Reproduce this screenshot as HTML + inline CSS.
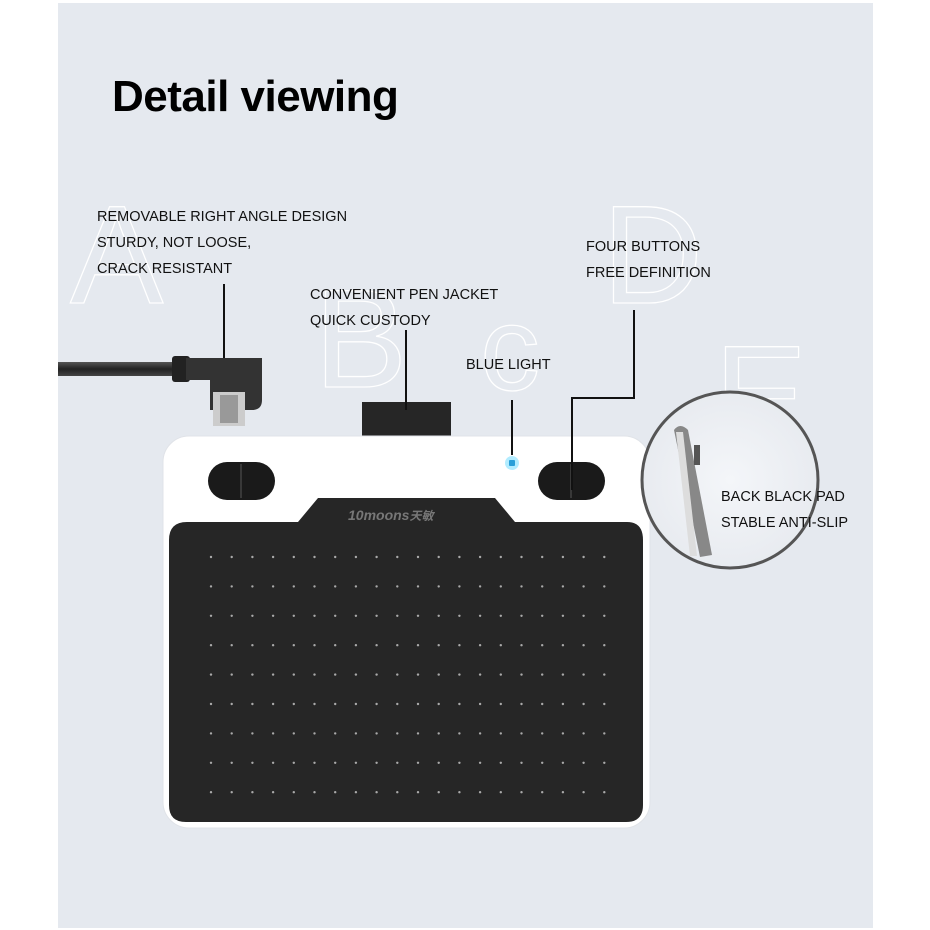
<!DOCTYPE html>
<html><head><meta charset="utf-8"><style>
body{margin:0;width:930px;height:930px;background:#fff;position:relative;overflow:hidden;font-family:"Liberation Sans",sans-serif}
.t{position:absolute;font-size:14.5px;color:#111;line-height:26px;letter-spacing:0}
</style></head><body>
<svg width="930" height="930" style="position:absolute;left:0;top:0">
<defs>
<radialGradient id="cg" cx="0.5" cy="0.5" r="0.5"><stop offset="0" stop-color="#f4f6f9"/><stop offset="1" stop-color="#e8ebf0"/></radialGradient>
<linearGradient id="cab" x1="0" y1="0" x2="0" y2="1"><stop offset="0" stop-color="#555"/><stop offset="0.5" stop-color="#222"/><stop offset="1" stop-color="#444"/></linearGradient>
</defs>
<rect x="58" y="3" width="815" height="925" fill="#e5e9ef"/>
<g font-family="Liberation Sans" font-size="140" fill="none" stroke="#fff" stroke-width="1.3">
<text x="70" y="303">A</text>
<text x="314" y="387">B</text>
<text x="480" y="390" font-size="120">c</text>
<text x="602" y="303">D</text>
<text x="714" y="443">E</text>
</g>
<rect x="58" y="362" width="120" height="14" fill="url(#cab)"/>
<rect x="172" y="356" width="18" height="26" rx="3" fill="#222"/>
<path d="M186 358 H262 V400 Q262 410 252 410 H210 V380 H186 Z" fill="#333"/>
<rect x="213" y="392" width="32" height="34" fill="#ccc"/>
<rect x="220" y="395" width="18" height="28" fill="#999"/>
<rect x="362" y="402" width="89" height="40" fill="#262626"/>
<rect x="163" y="436" width="487" height="392" rx="26" fill="#fff" stroke="#e0e3e8"/>
<path d="M169 540 Q169 522 187 522 H298 L318 498 H495 L515 522 H627 Q643 522 643 540 V805 Q643 822 626 822 H186 Q169 822 169 805 Z" fill="#262626"/>
<text x="348" y="520" font-family="Liberation Sans" font-style="italic" font-weight="bold" font-size="14" fill="#777">10moons<tspan font-family="Noto Sans CJK SC" font-size="12">天敏</tspan></text>
<g fill="#aaa" id="dots"></g>
<rect x="208" y="462" width="67" height="38" rx="19" fill="#1a1a1a"/>
<line x1="241" y1="464" x2="241" y2="498" stroke="#555"/>
<rect x="538" y="462" width="67" height="38" rx="19" fill="#1a1a1a"/>
<line x1="571" y1="464" x2="571" y2="498" stroke="#555"/>
<circle cx="512" cy="463" r="7" fill="#7fe0ff" opacity="0.6"/>
<rect x="509" y="460" width="6" height="6" rx="1" fill="#2a9fd8"/>
<g stroke="#111" stroke-width="2" fill="none">
<line x1="224" y1="284" x2="224" y2="358"/>
<line x1="406" y1="330" x2="406" y2="410"/>
<line x1="512" y1="400" x2="512" y2="455"/>
<polyline points="634,310 634,398 572,398 572,490"/>
</g>
<circle cx="730" cy="480" r="88" fill="url(#cg)" stroke="#555" stroke-width="3"/>
<path d="M674 430 Q680 422 688 430 L712 555 L700 557 Z" fill="#888"/>
<path d="M676 432 L690 556 L697 556 L683 432 Z" fill="#ddd"/>
<rect x="694" y="445" width="6" height="20" fill="#555"/>
</svg>
<script>
var g=document.getElementById('dots'),s='';
for(var r=0;r<9;r++)for(var c=0;c<20;c++){s+='<circle cx="'+(211+c*20.7)+'" cy="'+(557+r*29.4)+'" r="1.2"/>';}
g.innerHTML=s;
</script>
<div style="position:absolute;left:112px;top:72px;font-size:44px;font-weight:bold;color:#000;letter-spacing:-0.5px">Detail viewing</div>
<div class="t" style="left:97px;top:204px">REMOVABLE RIGHT ANGLE DESIGN<br>STURDY, NOT LOOSE,<br>CRACK RESISTANT</div>
<div class="t" style="left:310px;top:282px">CONVENIENT PEN JACKET<br>QUICK CUSTODY</div>
<div class="t" style="left:466px;top:352px">BLUE LIGHT</div>
<div class="t" style="left:586px;top:234px">FOUR BUTTONS<br>FREE DEFINITION</div>
<div class="t" style="left:721px;top:484px">BACK BLACK PAD<br>STABLE ANTI-SLIP</div>
</body></html>
